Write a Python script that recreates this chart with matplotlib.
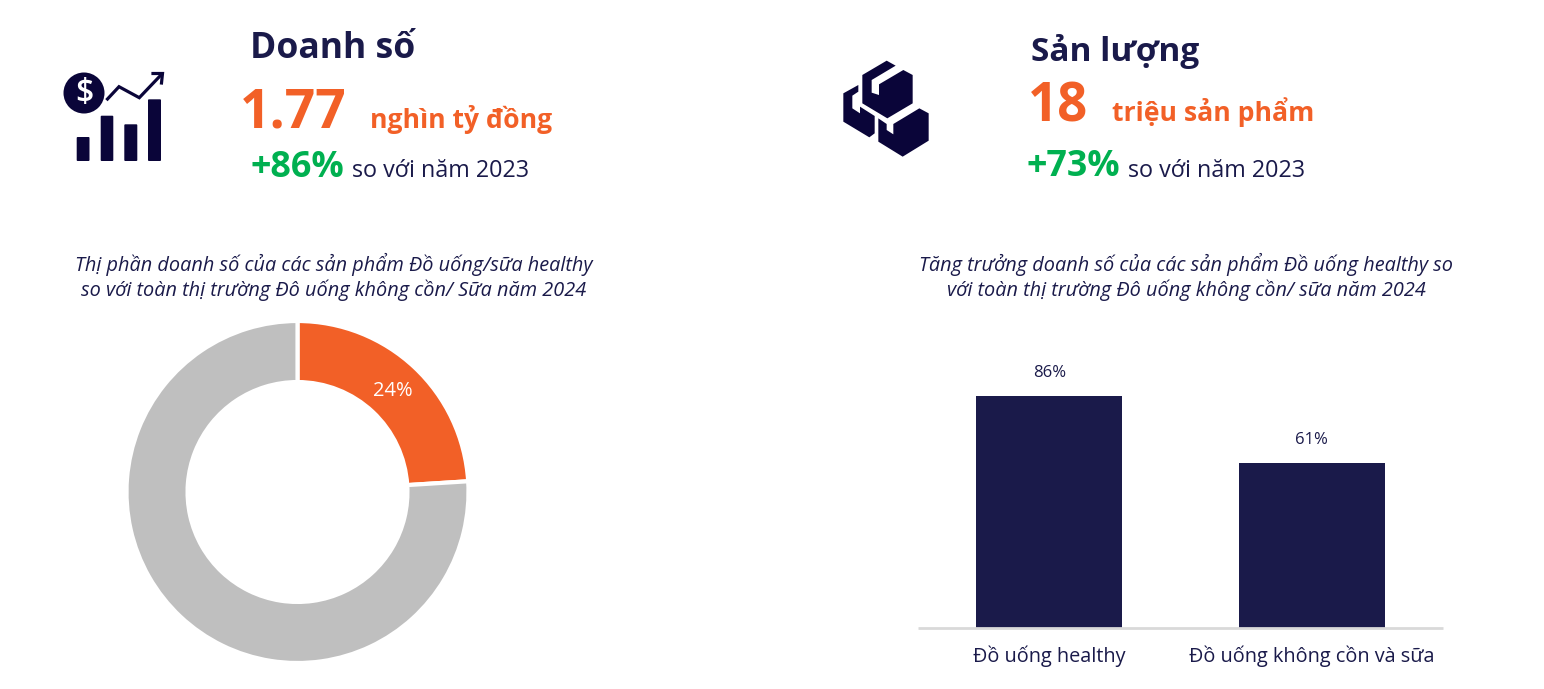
import matplotlib
matplotlib.use("Agg")
import matplotlib.pyplot as plt
from matplotlib.patches import Circle, FancyBboxPatch, Polygon

plt.rcParams['font.family'] = ['Open Sans', 'DejaVu Sans']

NAVY = '#1a1a4a'
ICON = '#0a0539'
ORANGE = '#f26027'
GREEN = '#00b050'
GRAY = '#bfbfbf'

# data
share_values = [24, 76]
share_colors = [ORANGE, GRAY]
share_label = '24%'
growth_categories = ['Đồ uống healthy', 'Đồ uống không cồn và sữa']
growth_values = [86, 61]
growth_labels = ['86%', '61%']

title_left = 'Thị phần doanh số của các sản phẩm Đồ uống/sữa healthy\nso với toàn thị trường Đô uống không cồn/ Sữa năm 2024'
title_right = 'Tăng trưởng doanh số của các sản phẩm Đồ uống healthy so\nvới toàn thị trường Đô uống không cồn/ sữa năm 2024'

W, H = 1544, 689
fig = plt.figure(figsize=(W / 100, H / 100), dpi=100, facecolor='white')


# axes placed by pixel box, y measured from the top
def px_axes(x0, y0, x1, y1):
    return fig.add_axes([x0 / W, 1 - y1 / H, (x1 - x0) / W, (y1 - y0) / H])


# overlay for headline text and icons
bg = fig.add_axes([0, 0, 1, 1])
bg.set_xlim(0, W)
bg.set_ylim(H, 0)
bg.axis('off')


def label(x, y, s, size, color=NAVY, weight='normal', **kw):
    bg.text(x, y, s, fontsize=size, color=color, fontweight=weight, va='baseline', **kw)


# left block
label(250, 58, 'Doanh số', 25.6, weight='bold')
label(240, 128, '1.77', 38.5, ORANGE, 'bold')
label(370.5, 128, 'nghìn tỷ đồng', 19.1, ORANGE, 'bold')
label(251, 177, '+86%', 25.8, GREEN, 'bold')
label(352, 177, 'so với năm 2023', 16.8)

# right block
label(1031, 61, 'Sản lượng', 24, weight='bold')
label(1028, 122, '18', 38, ORANGE, 'bold')
label(1112, 121, 'triệu sản phẩm', 19.2, ORANGE, 'bold')
label(1027, 176, '+73%', 25.8, GREEN, 'bold')
label(1128, 177, 'so với năm 2023', 16.8)

# chart titles
bg.text(334, 277, title_left, fontsize=14.35, color=NAVY, style='italic', ha='center', va='center', linespacing=1.25)
bg.text(1186, 277, title_right, fontsize=14.35, color=NAVY, style='italic', ha='center', va='center', linespacing=1.25)

# money icon
bg.add_patch(Circle((84, 93), 20.5, fc=ICON, ec='none'))
bg.text(84, 93, '$', fontsize=23, color='white', fontweight='semibold', ha='center', va='center')
for x0, x1, top in [(76.7, 89.5, 137), (100.7, 113.3, 115.7), (124.3, 137.3, 124.3), (148, 161, 99.3)]:
    bg.add_patch(FancyBboxPatch((x0 + 1, top + 1), x1 - x0 - 2, 161 - top - 2, boxstyle='round,pad=1',
                                fc=ICON, ec='none'))
bg.plot([107.5, 119, 139.3, 160], [99, 86.7, 97.7, 76], color=ICON, lw=2.3, solid_joinstyle='miter')
bg.plot([153, 162.5, 161.5], [73.5, 73.5, 83], color=ICON, lw=2.3, solid_joinstyle='miter')

# boxes icon, traced in 3x zoom coordinates
box_top = [(97, 75), (170, 32), (197, 47), (125, 90), (125, 128), (147, 135), (147, 103), (220, 60),
           (248, 75), (248, 160), (172, 205), (97, 160)]
box_right = [(145, 205), (170, 222), (170, 240), (190, 253), (190, 222), (268, 175), (296, 190),
             (296, 272), (218, 320), (145, 275)]
box_left = [(40, 130), (85, 105), (85, 125), (67, 137), (67, 175), (90, 190), (90, 170), (134, 198),
            (134, 250), (118, 262), (40, 215)]
for pts in [box_top, box_right, box_left]:
    bg.add_patch(Polygon([(830 + x / 3, 50 + y / 3) for x, y in pts], closed=True, fc=ICON, ec='none'))

# donut
ax1 = px_axes(126.5, 321, 468.5, 663)
wedges, _ = ax1.pie(share_values, colors=share_colors, startangle=90, counterclock=False, radius=1,
                    wedgeprops=dict(width=0.357, edgecolor='white', linewidth=3))
ax1.set_xlim(-1, 1)
ax1.set_ylim(-1, 1)
ax1.set_aspect('equal')
ax1.text(0.56, 0.59, share_label, fontsize=14.5, color='white', ha='center', va='center')

# bars
ax2 = px_axes(918, 340, 1443, 628)
ax2.bar(range(len(growth_values)), growth_values, width=0.558, color=NAVY)
ax2.set_xlim(-0.5, 1.5)
ax2.set_ylim(0, 106.7)
for i, v in enumerate(growth_values):
    ax2.annotate(growth_labels[i], (i, v), xytext=(0, 16.5), textcoords='offset points', fontsize=12,
                 color=NAVY, ha='center', va='center')
ax2.set_xticks(range(len(growth_categories)))
ax2.set_xticklabels(growth_categories, fontsize=14.3, color=NAVY)
ax2.tick_params(axis='x', length=0, pad=12.5)
ax2.set_yticks([])
for side in ['top', 'left', 'right']:
    ax2.spines[side].set_visible(False)
ax2.spines['bottom'].set_color('#d9d9d9')
ax2.spines['bottom'].set_linewidth(2)
ax2.spines['bottom'].set_capstyle('butt')

fig.savefig('out.png', dpi=100, facecolor='white')
